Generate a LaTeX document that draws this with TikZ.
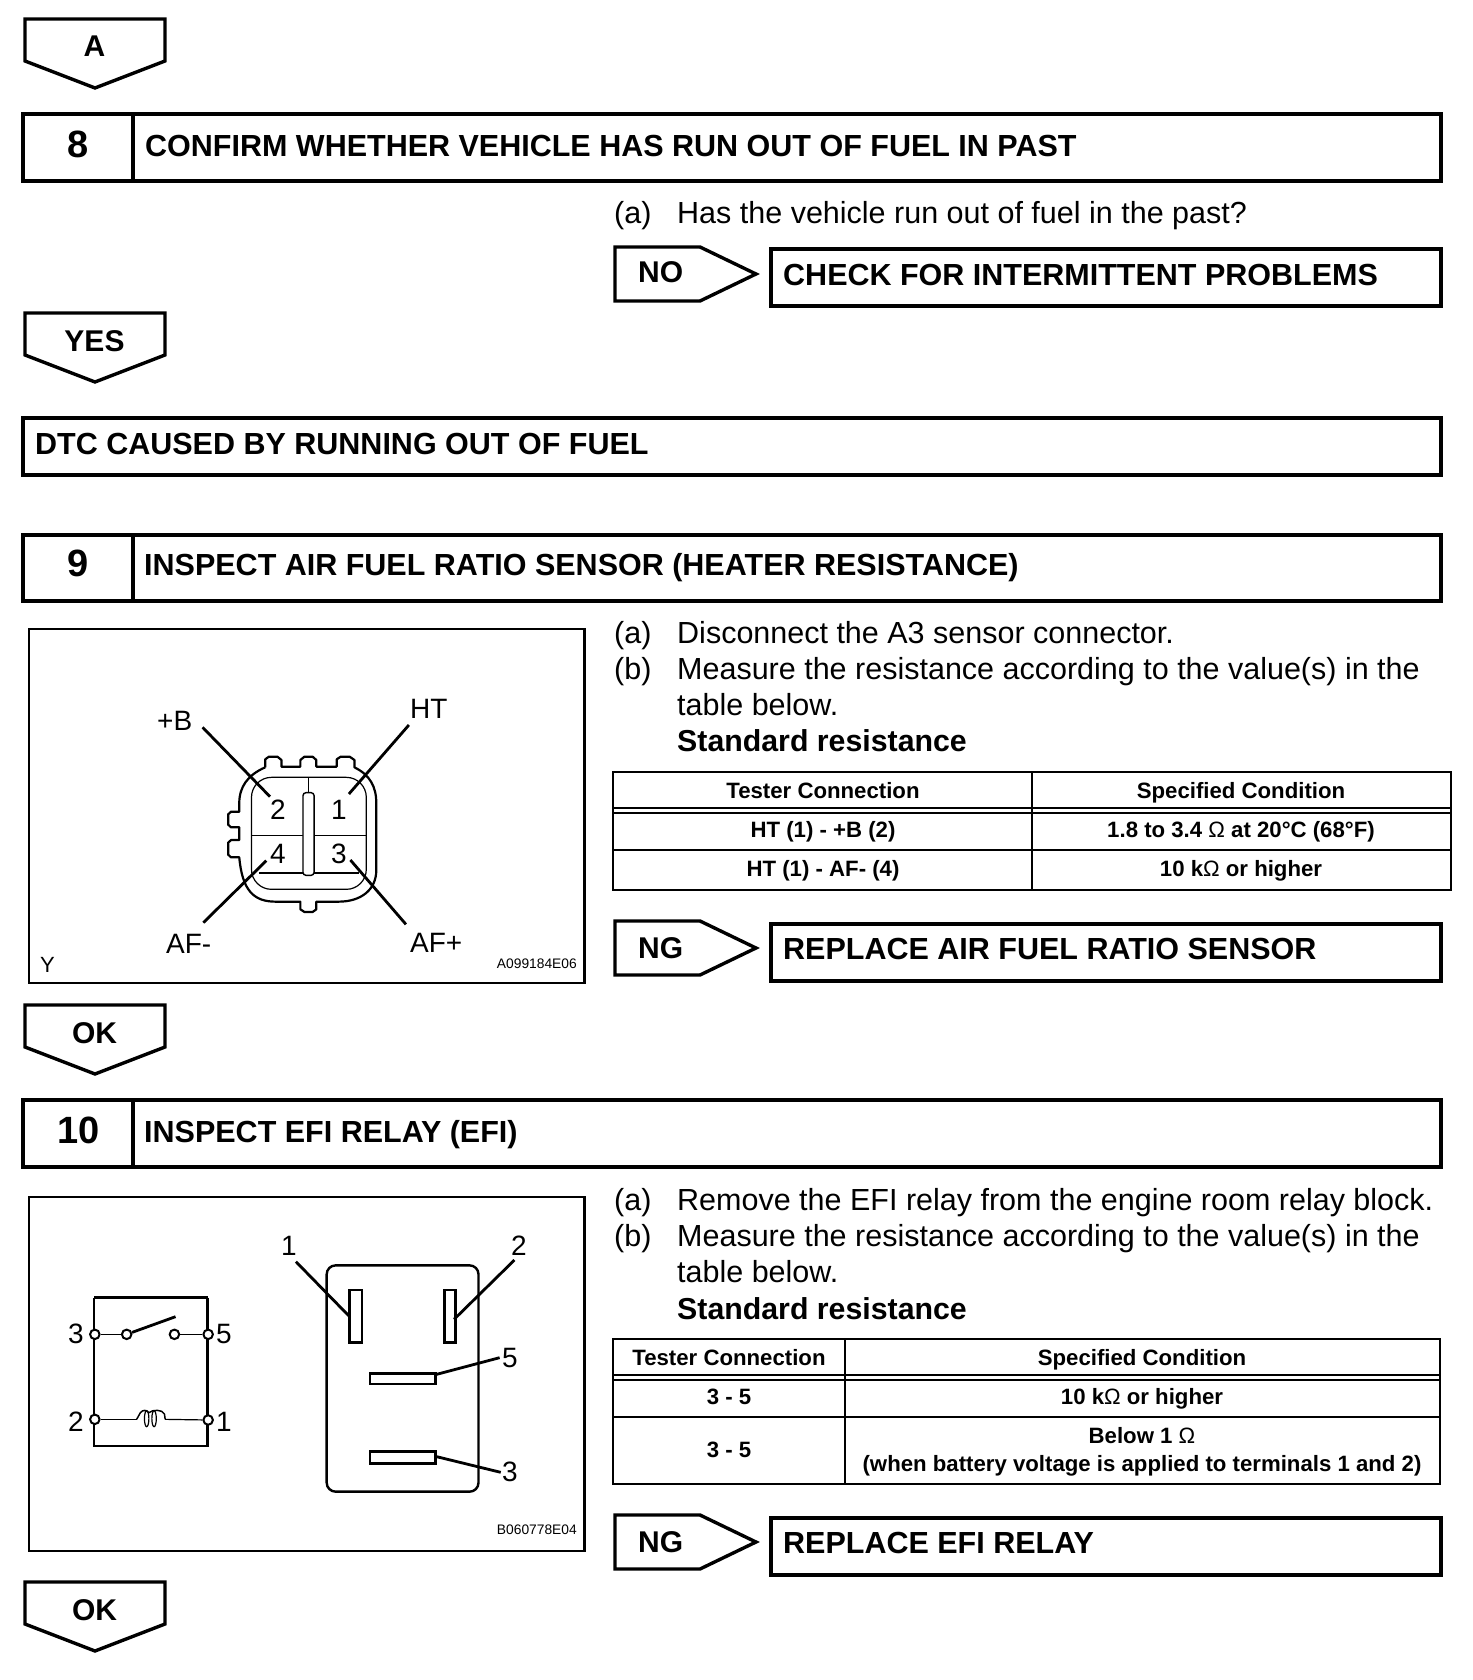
\documentclass[tikz,border=0pt]{standalone}
\usepackage{fontspec}
\setmainfont{Liberation Sans}
\tikzset{
  heavy/.style={draw=black,line width=4pt,line join=miter},
  tagline/.style={draw=black,line width=3.4pt,line join=miter},
  thin line/.style={draw=black,line width=2.6pt},
  hair/.style={draw=black,line width=1.2pt},
  leader/.style={draw=black,line width=2.8pt},
  ttl/.style={anchor=base west,inner sep=0pt,font=\bfseries\fontsize{30.5}{30.5}\selectfont},
  num/.style={anchor=base,inner sep=0pt,font=\bfseries\fontsize{38}{38}\selectfont},
  tagtxt/.style={anchor=base,inner sep=0pt,font=\bfseries\fontsize{30}{30}\selectfont},
  body/.style={anchor=base west,inner sep=0pt,font=\fontsize{30.5}{30.5}\selectfont},
  bodyb/.style={anchor=base west,inner sep=0pt,font=\bfseries\fontsize{30.3}{30.3}\selectfont},
  cell/.style={anchor=base,inner sep=0pt,font=\bfseries\fontsize{22.2}{22.2}\selectfont},
  lbl/.style={anchor=base west,inner sep=0pt,font=\fontsize{28}{28}\selectfont},
  dig/.style={anchor=base,inner sep=0pt,font=\fontsize{28}{28}\selectfont},
  code/.style={anchor=base east,inner sep=0pt,font=\fontsize{13.8}{13.8}\selectfont},
  pin/.style={draw=black,fill=white,line width=2pt,circle,inner sep=0pt,minimum size=9.5pt},
}
\newcommand{\downtag}[4]{% name, top y, text, text baseline
  \draw[tagline] (25,#2) -- (165,#2) -- (165,#2+42) -- (95,#2+69) -- (25,#2+42) -- cycle;
  \node[tagtxt] (#1) at (94.5,#4) {#3};
}
\newcommand{\righttag}[4]{% name, top y, text, baseline
  \draw[tagline] (615,#2) -- (700,#2) -- (756,#2+27) -- (700,#2+54) -- (615,#2+54) -- cycle;
  \node[tagtxt,anchor=base west] (#1) at (638,#4) {#3};
}
\begin{document}
\begin{tikzpicture}[x=1pt,y=-1pt]
\useasboundingbox (0,0) rectangle (1472,1680);
\fill[white] (0,0) rectangle (1472,1680);

% ---------- step 8
\downtag{tagA}{19}{A}{57}
\draw[heavy] (23,114) rectangle (1441,181);
\draw[heavy] (133,114) -- (133,181);
\node[num] (n8) at (78,158) {8};
\node[ttl] (t8) at (145,157) {CONFIRM WHETHER VEHICLE HAS RUN OUT OF FUEL IN PAST};
\node[body] (a8) at (614,224) {(a)};
\node[body] (a8t) at (677,224) {Has the vehicle run out of fuel in the past?};
\righttag{tagNO}{247}{NO}{283}
\draw[heavy] (771,249) rectangle (1441,306);
\node[ttl] (tCheck) at (783,285) {CHECK FOR INTERMITTENT PROBLEMS};
\downtag{tagYES}{313}{YES}{351}
\draw[heavy] (23,418) rectangle (1441,475);
\node[ttl] (tDTC) at (35,454) {DTC CAUSED BY RUNNING OUT OF FUEL};

% ---------- step 9
\draw[heavy] (23,535) rectangle (1441,601);
\draw[heavy] (133,535) -- (133,601);
\node[num] (n9) at (78,576) {9};
\node[ttl] (t9) at (144,575) {INSPECT AIR FUEL RATIO SENSOR (HEATER RESISTANCE)};

\draw[thin line] (29,629) rectangle (584.5,983);
\begin{scope}[shift={(20,620)},x=0.37037pt,y=-0.33333pt]
  \draw[line width=2.2pt,line join=round] (662,442) -- (662,418) -- (672,410) -- (695,410) -- (706,420) -- (706,440)
    -- (757,440) -- (757,420) -- (768,410) -- (790,410) -- (800,420) -- (800,440)
    -- (855,440) -- (855,418) -- (866,410) -- (890,410) -- (903,420) -- (903,442)
    .. controls (945,465) and (962,500) .. (962,550) -- (962,750)
    .. controls (962,810) and (920,845) .. (860,845) -- (800,845) -- (800,868) -- (790,876) -- (768,876) -- (757,868) -- (757,845) -- (690,845)
    .. controls (630,845) and (600,810) .. (592,712)
    -- (570,712) -- (562,704) -- (562,668) -- (570,660) -- (592,660) -- (592,622) -- (570,622) -- (562,614) -- (562,583) -- (570,575) -- (592,575)
    -- (592,550) .. controls (592,500) and (615,465) .. (662,442);
  \draw[hair,rounded corners=20pt] (625,472) rectangle (935,808);
  \draw[hair] (625,647) -- (935,647);
  \draw[hair] (780,472) -- (780,518);
  \draw[draw=black,line width=2.2pt] (645,758) -- (915,758);
  \draw[draw=black,fill=white,line width=1.4pt,rounded corners=3pt] (764,518) rectangle (794,766);
  \coordinate (cB) at (493,322);  \coordinate (cB2) at (675,530);
  \coordinate (cH) at (1050,315); \coordinate (cH2) at (888,522);
  \coordinate (cF) at (495,908);  \coordinate (cF2) at (665,722);
  \coordinate (cP) at (1042,913); \coordinate (cP2) at (892,720);
  \draw[leader] (cB) -- (cB2);
  \draw[leader] (cH) -- (cH2);
  \draw[leader] (cF) -- (cF2);
  \draw[leader] (cP) -- (cP2);
\end{scope}
\node[dig] (d2) at (278,819) {2};
\node[dig] (d1) at (339,819) {1};
\node[dig] (d4) at (278,863) {4};
\node[dig] (d3) at (339,863) {3};
\node[lbl] (lB) at (157,730) {+B};
\node[lbl] (lHT) at (410,718) {HT};
\node[lbl] (lAFm) at (166,953) {AF-};
\node[lbl] (lAFp) at (410,952) {AF+};
\node[lbl,font=\fontsize{22}{22}\selectfont] (lY) at (40,972) {Y};
\node[code] (c1) at (577,968) {A099184E06};

\node[body] (a9) at (614,643) {(a)};
\node[body] (a9t) at (677,643) {Disconnect the A3 sensor connector.};
\node[body] (b9) at (614,679) {(b)};
\node[body] (b9t) at (677,679) {Measure the resistance according to the value(s) in the};
\node[body] (b9u) at (677,715) {table below.};
\node[bodyb] (s9) at (677,751) {Standard resistance};

\draw[thin line] (613,772) rectangle (1451,890);
\draw[thin line] (1032,772) -- (1032,890);
\draw[thin line] (613,808) -- (1451,808);
\draw[thin line] (613,813) -- (1451,813);
\draw[thin line] (613,850) -- (1451,850);
\node[cell] (h91) at (823,798) {Tester Connection};
\node[cell] (h92) at (1241,798) {Specified Condition};
\node[cell] (r911) at (823,837) {HT (1) - +B (2)};
\node[cell] (r912) at (1241,837) {1.8 to 3.4 {\normalfont Ω} at 20°C (68°F)};
\node[cell] (r921) at (823,876) {HT (1) - AF- (4)};
\node[cell] (r922) at (1241,876) {10 k{\normalfont Ω} or higher};

\righttag{tagNG1}{921}{NG}{958}
\draw[heavy] (771,924) rectangle (1441,981);
\node[ttl] (tRepS) at (783,959) {REPLACE AIR FUEL RATIO SENSOR};
\downtag{tagOK1}{1005}{OK}{1043}

% ---------- step 10
\draw[heavy] (23,1100) rectangle (1441,1167);
\draw[heavy] (133,1100) -- (133,1167);
\node[num] (n10) at (79,1143) {10};
\node[ttl] (t10) at (144,1142) {INSPECT EFI RELAY (EFI)};

\draw[thin line] (29,1197) rectangle (584.5,1551);
\begin{scope}[shift={(20,1190)},x=0.37037pt,y=-0.33333pt]
  \draw[line width=2.8pt] (200,433) -- (200,323);
  \draw[line width=3.4pt] (200,323) -- (507,323);
  \draw[line width=2.8pt] (507,323) -- (507,768) -- (200,768) -- (200,433);
  \node[pin] (p3) at (202,433) {};
  \node[pin] (pa) at (288,433) {};
  \node[pin] (pb) at (417,433) {};
  \node[pin] (p5) at (508,433) {};
  \node[pin] (p2) at (202,688) {};
  \node[pin] (p1) at (508,690) {};
  \coordinate (swEnd) at (420,380);
  \coordinate (coilL) at (315,688);
  \coordinate (coilR) at (392,688);
  \draw[hair] (p3) -- (pa);
  \draw[hair] (pb) -- (p5);
  \draw[leader] (pa) -- (swEnd);
  \draw[hair] (p2) -- (coilL);
  \draw[hair] (coilR) -- (p1);
  \draw[line width=1.5pt] (coilL) -- (325,668) .. controls (332,658) and (342,660) .. (348,668) .. controls (358,658) and (385,658) .. (390,672) -- (coilR);
  \draw[line width=1.2pt] (342,686) ellipse [x radius=6, y radius=24];
  \draw[line width=1.2pt] (362,686) ellipse [x radius=6, y radius=24];
  \draw[line width=2.4pt,rounded corners=9pt] (828,226) rectangle (1238,905);
  \draw[line width=2.4pt] (890,300) rectangle (923,458);
  \draw[line width=2.4pt] (1146,300) rectangle (1176,458);
  \draw[line width=2.4pt] (945,550) rectangle (1122,582);
  \draw[line width=2.4pt] (945,785) rectangle (1122,821);
  \coordinate (t1a) at (745,215);  \coordinate (t1b) at (890,380);
  \coordinate (t2a) at (1335,210); \coordinate (t2b) at (1172,388);
  \coordinate (t5a) at (1295,503); \coordinate (t5b) at (1125,553);
  \coordinate (t3a) at (1298,847); \coordinate (t3b) at (1125,800);
  \draw[leader] (t1a) -- (t1b);
  \draw[leader] (t2a) -- (t2b);
  \draw[leader] (t5a) -- (t5b);
  \draw[leader] (t3a) -- (t3b);
\end{scope}
\node[dig] (e3) at (76,1343) {3};
\node[dig] (e5) at (224,1343) {5};
\node[dig] (e2) at (76,1431) {2};
\node[dig] (e1) at (224,1431) {1};
\node[dig] (f1) at (289,1255) {1};
\node[dig] (f2) at (519,1255) {2};
\node[dig] (f5) at (510,1367) {5};
\node[dig] (f3) at (510,1481) {3};
\node[code] (c2) at (577,1534) {B060778E04};

\node[body] (a10) at (614,1210) {(a)};
\node[body] (a10t) at (677,1210) {Remove the EFI relay from the engine room relay block.};
\node[body] (b10) at (614,1246) {(b)};
\node[body] (b10t) at (677,1246) {Measure the resistance according to the value(s) in the};
\node[body] (b10u) at (677,1282) {table below.};
\node[bodyb] (s10) at (677,1319) {Standard resistance};

\draw[thin line] (613,1339) rectangle (1440,1484);
\draw[thin line] (845,1339) -- (845,1484);
\draw[thin line] (613,1375) -- (1440,1375);
\draw[thin line] (613,1380) -- (1440,1380);
\draw[thin line] (613,1417) -- (1440,1417);
\node[cell] (h101) at (729,1365) {Tester Connection};
\node[cell] (h102) at (1142,1365) {Specified Condition};
\node[cell] (r1011) at (729,1404) {3 - 5};
\node[cell] (r1012) at (1142,1404) {10 k{\normalfont Ω} or higher};
\node[cell] (r1021) at (729,1457) {3 - 5};
\node[cell] (r1022) at (1142,1443) {Below 1 {\normalfont Ω}};
\node[cell] (r1023) at (1142,1471) {(when battery voltage is applied to terminals 1 and 2)};

\righttag{tagNG2}{1515}{NG}{1552}
\draw[heavy] (771,1518) rectangle (1441,1575);
\node[ttl] (tRepE) at (783,1553) {REPLACE EFI RELAY};
\downtag{tagOK2}{1582}{OK}{1620}
\end{tikzpicture}
\end{document}
